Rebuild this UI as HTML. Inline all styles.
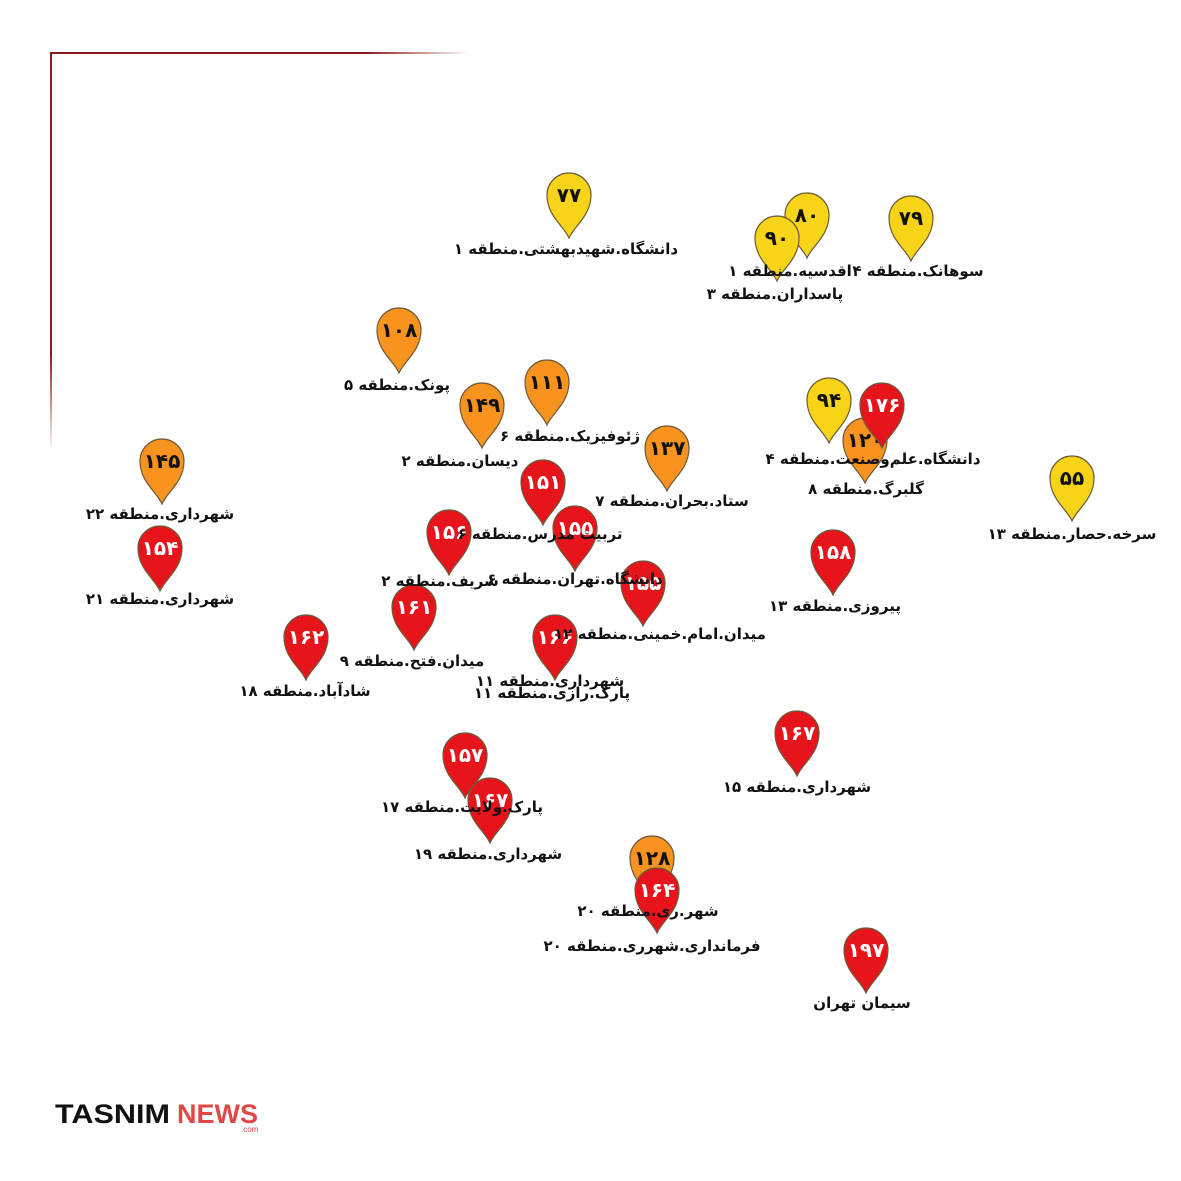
<!DOCTYPE html>
<html><head><meta charset="utf-8"><style>
html,body{margin:0;padding:0;background:#fff;width:1181px;height:1181px;overflow:hidden}
svg{display:block}
.l{font-family:"DejaVu Sans",sans-serif;font-weight:bold;font-size:15px;fill:#111;text-anchor:middle}
.n{font-family:"DejaVu Sans",sans-serif;font-weight:bold;font-size:20px;text-anchor:middle}
</style></head><body>
<svg width="1181" height="1181" viewBox="0 0 1181 1181">
<defs>
<linearGradient id="gt" x1="0" x2="1" y1="0" y2="0"><stop offset="0" stop-color="#8b1a1a"/><stop offset="0.75" stop-color="#8b1a1a"/><stop offset="1" stop-color="#8b1a1a" stop-opacity="0"/></linearGradient>
<linearGradient id="gl" x1="0" x2="0" y1="0" y2="1"><stop offset="0" stop-color="#8b1a1a"/><stop offset="0.75" stop-color="#8b1a1a"/><stop offset="1" stop-color="#8b1a1a" stop-opacity="0"/></linearGradient>
<path id="p" d="M0,43 C-5,31 -22,21 -22,0 A22,22 0 1 1 22,0 C22,21 5,31 0,43 Z" stroke="#6b5a3a" stroke-width="1.2"/>
</defs>
<rect x="50" y="52" width="420" height="2" fill="url(#gt)"/>
<rect x="50" y="52" width="2" height="400" fill="url(#gl)"/>

<g id="pins">
<g transform="translate(569,195)"><use href="#p" fill="#f7d417"/><text class="n" y="7" fill="#111">۷۷</text></g>
<g transform="translate(911,218)"><use href="#p" fill="#f7d417"/><text class="n" y="7" fill="#111">۷۹</text></g>
<g transform="translate(807,215)"><use href="#p" fill="#f7d417"/><text class="n" y="7" fill="#111">۸۰</text></g>
<g transform="translate(777,238)"><use href="#p" fill="#f7d417"/><text class="n" y="7" fill="#111">۹۰</text></g>
<g transform="translate(829,400)"><use href="#p" fill="#f7d417"/><text class="n" y="7" fill="#111">۹۴</text></g>
<g transform="translate(1072,478)"><use href="#p" fill="#f7d417"/><text class="n" y="7" fill="#111">۵۵</text></g>
<g transform="translate(399,330)"><use href="#p" fill="#f7931e"/><text class="n" y="7" fill="#111">۱۰۸</text></g>
<g transform="translate(547,382)"><use href="#p" fill="#f7931e"/><text class="n" y="7" fill="#111">۱۱۱</text></g>
<g transform="translate(482,405)"><use href="#p" fill="#f7931e"/><text class="n" y="7" fill="#111">۱۴۹</text></g>
<g transform="translate(667,448)"><use href="#p" fill="#f7931e"/><text class="n" y="7" fill="#111">۱۳۷</text></g>
<g transform="translate(162,461)"><use href="#p" fill="#f7931e"/><text class="n" y="7" fill="#111">۱۴۵</text></g>
<g transform="translate(865,440)"><use href="#p" fill="#f7931e"/><text class="n" y="7" fill="#111">۱۲۰</text></g>
<g transform="translate(652,858)"><use href="#p" fill="#f7931e"/><text class="n" y="7" fill="#111">۱۲۸</text></g>
<g transform="translate(882,405)"><use href="#p" fill="#e8141c"/><text class="n" y="7" fill="#fff">۱۷۶</text></g>
<g transform="translate(543,482)"><use href="#p" fill="#e8141c"/><text class="n" y="7" fill="#fff">۱۵۱</text></g>
<g transform="translate(449,532)"><use href="#p" fill="#e8141c"/><text class="n" y="7" fill="#fff">۱۵۶</text></g>
<g transform="translate(575,528)"><use href="#p" fill="#e8141c"/><text class="n" y="7" fill="#fff">۱۵۵</text></g>
<g transform="translate(160,548)"><use href="#p" fill="#e8141c"/><text class="n" y="7" fill="#fff">۱۵۴</text></g>
<g transform="translate(833,552)"><use href="#p" fill="#e8141c"/><text class="n" y="7" fill="#fff">۱۵۸</text></g>
<g transform="translate(643,583)"><use href="#p" fill="#e8141c"/><text class="n" y="7" fill="#fff">۱۵۵</text></g>
<g transform="translate(414,607)"><use href="#p" fill="#e8141c"/><text class="n" y="7" fill="#fff">۱۶۱</text></g>
<g transform="translate(306,637)"><use href="#p" fill="#e8141c"/><text class="n" y="7" fill="#fff">۱۶۲</text></g>
<g transform="translate(555,637)"><use href="#p" fill="#e8141c"/><text class="n" y="7" fill="#fff">۱۶۶</text></g>
<g transform="translate(797,733)"><use href="#p" fill="#e8141c"/><text class="n" y="7" fill="#fff">۱۶۷</text></g>
<g transform="translate(465,755)"><use href="#p" fill="#e8141c"/><text class="n" y="7" fill="#fff">۱۵۷</text></g>
<g transform="translate(490,800)"><use href="#p" fill="#e8141c"/><text class="n" y="7" fill="#fff">۱۶۷</text></g>
<g transform="translate(657,890)"><use href="#p" fill="#e8141c"/><text class="n" y="7" fill="#fff">۱۶۴</text></g>
<g transform="translate(866,950)"><use href="#p" fill="#e8141c"/><text class="n" y="7" fill="#fff">۱۹۷</text></g>
</g>

<g>
<text class="l" x="566" y="254">دانشگاه.شهیدبهشتی.منطقه ۱</text>
<text class="l" x="790" y="276">اقدسیه.منطقه ۱</text>
<text class="l" x="775" y="299">پاسداران.منطقه ۳</text>
<text class="l" x="918" y="276">سوهانک.منطقه ۴</text>
<text class="l" x="397" y="390">پونک.منطقه ۵</text>
<text class="l" x="570" y="441">ژئوفیزیک.منطقه ۶</text>
<text class="l" x="460" y="466">دیسان.منطقه ۲</text>
<text class="l" x="672" y="506">ستاد.بحران.منطقه ۷</text>
<text class="l" x="160" y="519">شهرداری.منطقه ۲۲</text>
<text class="l" x="873" y="464">دانشگاه.علم‌وصنعت.منطقه ۴</text>
<text class="l" x="866" y="494">گلبرگ.منطقه ۸</text>
<text class="l" x="1072" y="539">سرخه.حصار.منطقه ۱۳</text>
<text class="l" x="540" y="539">تربیت مدرس.منطقه ۶</text>
<text class="l" x="575" y="584">دانشگاه.تهران.منطقه ۶</text>
<text class="l" x="440" y="586">شریف.منطقه ۲</text>
<text class="l" x="160" y="604">شهرداری.منطقه ۲۱</text>
<text class="l" x="835" y="611">پیروزی.منطقه ۱۳</text>
<text class="l" x="660" y="639">میدان.امام.خمینی.منطقه ۱۲</text>
<text class="l" x="412" y="666">میدان.فتح.منطقه ۹</text>
<text class="l" x="305" y="696">شادآباد.منطقه ۱۸</text>
<text class="l" x="550" y="686">شهرداری.منطقه ۱۱</text>
<text class="l" x="552" y="698">پارک.رازی.منطقه ۱۱</text>
<text class="l" x="797" y="792">شهرداری.منطقه ۱۵</text>
<text class="l" x="462" y="812">پارک.ولایت.منطقه ۱۷</text>
<text class="l" x="488" y="859">شهرداری.منطقه ۱۹</text>
<text class="l" x="648" y="916">شهر.ری.منطقه ۲۰</text>
<text class="l" x="652" y="951">فرمانداری.شهرری.منطقه ۲۰</text>
<text class="l" x="862" y="1008">سیمان تهران</text>
</g>

<text x="55" y="1123" textLength="115" lengthAdjust="spacingAndGlyphs" font-family="Liberation Sans, sans-serif" font-weight="bold" font-size="27" fill="#111">TASNIM</text>
<text x="177" y="1123" textLength="81" lengthAdjust="spacingAndGlyphs" font-family="Liberation Sans, sans-serif" font-weight="bold" font-size="27" fill="#e04848">NEWS</text>
<text x="241" y="1132" font-family="Liberation Sans, sans-serif" font-size="8" fill="#e04848">.com</text>
</svg>
</body></html>
